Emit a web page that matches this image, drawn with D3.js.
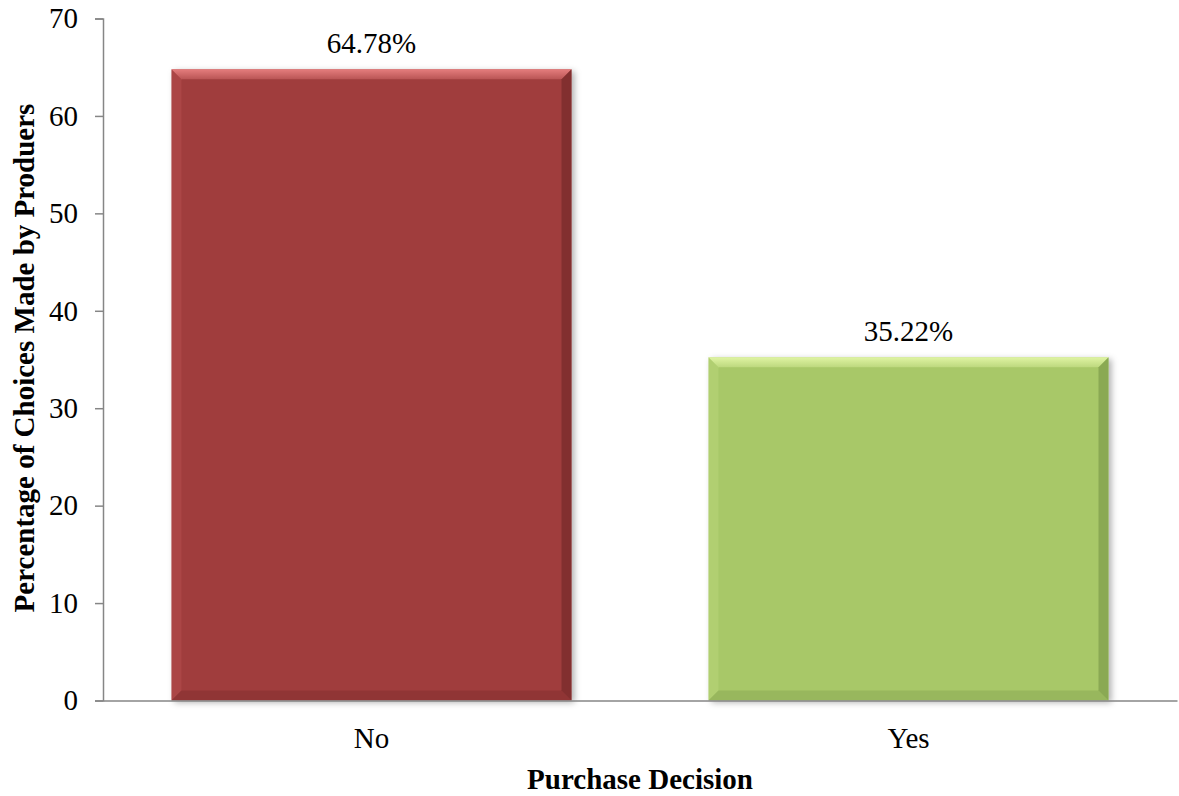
<!DOCTYPE html>
<html><head><meta charset="utf-8">
<script src="https://cdn.jsdelivr.net/npm/d3@7"></script>
<style>html,body{margin:0;padding:0;background:#fff;}svg{display:block;}</style>
</head><body>
<svg id="chart" width="1179" height="796"></svg>
<script>
const categories = ["No", "Yes"];
const values = [64.78, 35.22];
const valueLabels = ["64.78%", "35.22%"];
const yTicks = [0, 10, 20, 30, 40, 50, 60, 70];
const barColors = ["#A03D3D", "#A8C868"];
const lightColors = ["#E88080", "#E2F6A6"];
const darkColors = ["#5E1E1E", "#66823A"];

const svg = d3.select("#chart");
const margin = {left: 103, right: 2};
const W = 1179;
const x = d3.scaleBand().domain(categories).range([margin.left, W - margin.right]).paddingInner(0.255).paddingOuter(0.1275);
const y = d3.scaleLinear().domain([0, 70]).range([700.5, 18.5]);

const font = "'Liberation Serif','Times New Roman',serif";
const fs = 29;

const defs = svg.append("defs");
const f = defs.append("filter").attr("id","shadow").attr("x","-10%").attr("y","-10%").attr("width","130%").attr("height","130%");
f.append("feDropShadow").attr("dx",3).attr("dy",2).attr("stdDeviation",3).attr("flood-color","#000").attr("flood-opacity",0.3);

categories.forEach((c, i) => {
  const gid = "topgrad" + i;
  const lg = defs.append("linearGradient").attr("id", gid).attr("x1",0).attr("y1",0).attr("x2",0).attr("y2",1);
  lg.append("stop").attr("offset","0%").attr("stop-color", lightColors[i]).attr("stop-opacity",0.95);
  lg.append("stop").attr("offset","100%").attr("stop-color", lightColors[i]).attr("stop-opacity",0.35);
});

const b = 10;
const g = svg.append("g");
categories.forEach((c, i) => {
  const x0 = x(c), x1 = x(c) + x.bandwidth();
  const y0 = y(values[i]), y1 = y(0);
  const bg = g.append("g");
  bg.append("rect").attr("x", x0).attr("y", y0).attr("width", x1 - x0).attr("height", y1 - y0)
    .attr("fill", barColors[i]).attr("filter", "url(#shadow)");
  bg.append("polygon").attr("points", [[x0,y0],[x1,y0],[x1-b,y0+b],[x0+b,y0+b]].map(p=>p.join(",")).join(" "))
    .attr("fill", `url(#topgrad${i})`);
  bg.append("polygon").attr("points", [[x0,y0],[x0+b,y0+b],[x0+b,y1-b],[x0,y1]].map(p=>p.join(",")).join(" "))
    .attr("fill", lightColors[i]).attr("opacity", 0.15);
  bg.append("polygon").attr("points", [[x1,y0],[x1,y1],[x1-b,y1-b],[x1-b,y0+b]].map(p=>p.join(",")).join(" "))
    .attr("fill", darkColors[i]).attr("opacity", 0.45);
  bg.append("polygon").attr("points", [[x0,y1],[x1,y1],[x1-b,y1-b],[x0+b,y1-b]].map(p=>p.join(",")).join(" "))
    .attr("fill", darkColors[i]).attr("opacity", 0.25);
  svg.append("text").attr("x", x0 + x.bandwidth()/2).attr("y", y0 - 16)
    .attr("text-anchor","middle").attr("font-family", font).attr("font-size", fs).attr("fill","#000")
    .text(valueLabels[i]);
});

const yAxis = d3.axisLeft(y).tickValues(yTicks).tickSize(8).tickPadding(17);
const ya = svg.append("g").attr("transform", `translate(${margin.left},0)`).call(yAxis);
ya.select(".domain").attr("stroke", "#868686").attr("stroke-width", 1.5);
ya.selectAll(".tick line").attr("stroke", "#868686").attr("stroke-width", 1.5);
ya.selectAll(".tick text").attr("font-family", font).attr("font-size", fs).attr("fill", "#000");

const xAxis = d3.axisBottom(x).tickSize(0).tickPadding(27);
const xa = svg.append("g").attr("transform", `translate(0,${y(0)})`).call(xAxis);
xa.select(".domain").attr("stroke", "#868686").attr("stroke-width", 1.5);
xa.selectAll(".tick text").attr("font-family", font).attr("font-size", fs).attr("fill", "#000");

svg.append("text").attr("x", (margin.left + W - margin.right)/2).attr("y", 789)
  .attr("text-anchor","middle").attr("font-family", font).attr("font-size", fs).attr("font-weight","bold")
  .text("Purchase Decision");
svg.append("text").attr("transform", `translate(34,358) rotate(-90)`)
  .attr("text-anchor","middle").attr("font-family", font).attr("font-size", fs).attr("font-weight","bold")
  .text("Percentage of Choices Made by Produers");
</script>
</body></html>
